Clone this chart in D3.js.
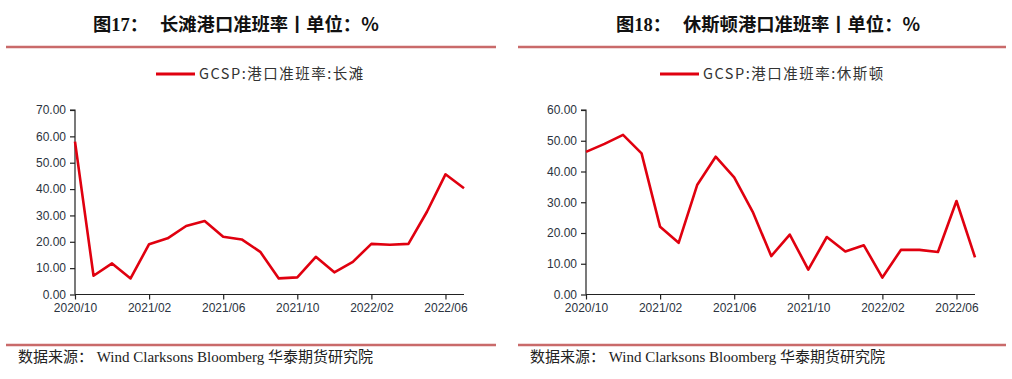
<!DOCTYPE html>
<head>
<meta charset="utf-8">
<title>港口准班率</title>
<style>
  body { margin: 0; background: #fff; }
  text { font-family: "Liberation Sans", "Noto Sans CJK SC", sans-serif; }
  .title { font-family: "Noto Sans CJK SC", sans-serif; font-weight: bold; font-size: 18.3px; fill: #111; }
  .foot { font-family: "Liberation Serif", "Noto Sans CJK SC", serif; font-size: 15px; fill: #222; }
  .legend { font-family: "Liberation Sans Narrow", "Noto Sans CJK SC", sans-serif; font-size: 14.5px; letter-spacing: 1.5px; fill: #333; }
  .tick text { font-size: 12px; fill: #2b3340; }
</style>
</head>
<body>
<div id="chart"></div>
<script src="https://cdn.jsdelivr.net/npm/d3@7/dist/d3.min.js"></script>
<script>
// months 2020/10 .. 2022/07
var months = ["2020/10","2020/11","2020/12","2021/01","2021/02","2021/03","2021/04","2021/05","2021/06",
  "2021/07","2021/08","2021/09","2021/10","2021/11","2021/12","2022/01","2022/02","2022/03","2022/04",
  "2022/05","2022/06","2022/07"];
var longBeach = [58.0, 7.1, 11.8, 6.1, 19.1, 21.3, 26.0, 27.9, 21.9, 20.9, 16.2, 6.1, 6.5, 14.3, 8.4, 12.4,
  19.2, 18.9, 19.2, 31.4, 45.6, 40.3];
var houston = [46.4, 49.0, 51.9, 45.9, 22.0, 16.8, 35.6, 44.8, 38.1, 26.9, 12.5, 19.5, 8.1, 18.7, 14.0, 16.0,
  5.5, 14.5, 14.5, 13.8, 30.4, 12.1];
var tickMonths = ["2020/10","2021/02","2021/06","2021/10","2022/02","2022/06"];

var W = 1012, H = 379;
var svg = d3.select("#chart").append("svg").attr("width", W).attr("height", H);

var panels = [
  { num: "17", name: "长滩港口准班率丨单位：%", legend: "GCSP:港口准班率:长滩", data: longBeach, ymax: 70,
    x0: 75, x1: 464, lineX: [6, 496], titleX: 93, legX: 156 },
  { num: "18", name: "休斯顿港口准班率丨单位：%", legend: "GCSP:港口准班率:休斯顿", data: houston, ymax: 60,
    x0: 586, x1: 975, lineX: [518, 1006], titleX: 616, legX: 660 }
];

panels.forEach(function(p) {
  var g = svg.append("g");

  // title
  var t = g.append("text").attr("class", "title").attr("x", p.titleX).attr("y", 31);
  t.append("tspan").text("图");
  t.append("tspan").attr("font-family", "Liberation Serif").attr("font-weight", "bold").attr("font-size", 18.5).text(p.num);
  t.append("tspan").text("：");
  t.append("tspan").attr("dx", 12).text(p.name);

  g.append("line").attr("x1", p.lineX[0]).attr("x2", p.lineX[1]).attr("y1", 47).attr("y2", 47)
    .attr("stroke", "#c96a6a").attr("stroke-width", 2.5);
  g.append("line").attr("x1", p.lineX[0]).attr("x2", p.lineX[1]).attr("y1", 345).attr("y2", 345)
    .attr("stroke", "#c96a6a").attr("stroke-width", 2.5);

  g.append("text").attr("class", "foot").attr("x", p.lineX[0] + 12).attr("y", 362)
    .text("数据来源：  Wind Clarksons Bloomberg 华泰期货研究院");

  // legend
  g.append("line").attr("x1", p.legX).attr("x2", p.legX + 39).attr("y1", 74).attr("y2", 74)
    .attr("stroke", "#e0000f").attr("stroke-width", 3);
  g.append("text").attr("class", "legend").attr("x", p.legX + 43).attr("y", 79).text(p.legend);

  var x = d3.scalePoint().domain(months).range([p.x0, p.x1]);
  var y = d3.scaleLinear().domain([0, p.ymax]).range([294.5, 110]);

  var ya = g.append("g").attr("transform", "translate(" + p.x0 + ",0)")
    .call(d3.axisLeft(y).ticks(p.ymax / 10).tickSize(5).tickPadding(4).tickFormat(d3.format(".2f")));
  var xa = g.append("g").attr("transform", "translate(0,294.5)")
    .call(d3.axisBottom(x).tickValues(tickMonths).tickSize(5).tickPadding(4));
  ya.select(".domain").attr("d", "M-5,110H0V294.5");
  xa.select(".domain").attr("d", "M" + p.x0 + ",0H" + p.x1);
  [ya, xa].forEach(function(a) {
    a.selectAll(".domain, .tick line").attr("stroke", "#222").attr("stroke-width", 1.2);
    a.selectAll("text").attr("font-family", null);
    a.attr("font-family", null).attr("font-size", null);
  });

  var line = d3.line().x(function(d, i) { return x(months[i]); }).y(function(d) { return y(d); });
  g.append("path").datum(p.data).attr("d", line).attr("fill", "none")
    .attr("stroke", "#e0000f").attr("stroke-width", 2.6).attr("stroke-linejoin", "round");
});
</script>
</body>
</html>
